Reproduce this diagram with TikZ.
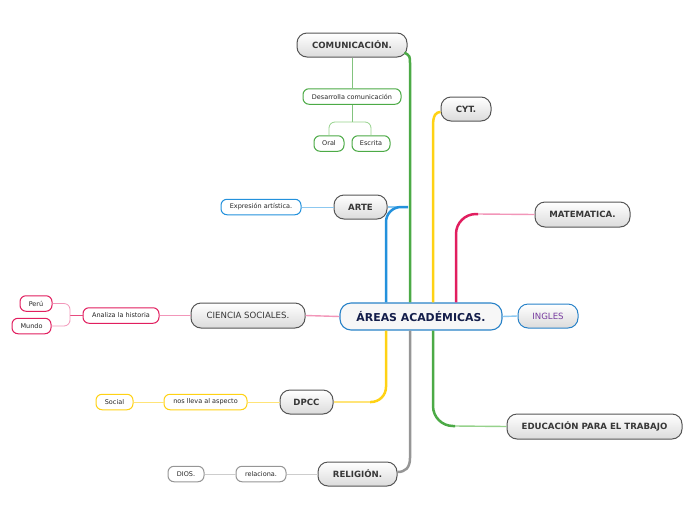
\documentclass[tikz,border=0pt]{standalone}
\usepackage{fontspec}
\setmainfont{DejaVu Sans}
\usetikzlibrary{calc}
\definecolor{cgreen}{RGB}{76,170,70}
\definecolor{lgreen}{RGB}{150,210,140}
\definecolor{cblue}{RGB}{35,145,220}
\definecolor{lblue}{RGB}{140,200,240}
\definecolor{cyellow}{RGB}{255,210,20}
\definecolor{lyellow}{RGB}{255,228,120}
\definecolor{cpink}{RGB}{225,30,95}
\definecolor{lpink}{RGB}{242,150,185}
\definecolor{cgray}{RGB}{150,150,150}
\definecolor{lgray}{RGB}{205,205,205}
\definecolor{mainborder}{RGB}{85,85,85}
\definecolor{maintext}{RGB}{55,55,55}
\definecolor{centerblue}{RGB}{40,130,200}
\definecolor{navy}{RGB}{20,30,75}
\definecolor{ingpurple}{RGB}{120,60,160}
\tikzset{
  mainbox/.style={draw=mainborder, line width=1pt, rounded corners=10pt, top color=white, bottom color=black!14,
    minimum height=24pt, inner sep=0pt, text=maintext, font=\fontsize{8.6}{10}\selectfont\bfseries},
  subbox/.style={draw=#1, line width=1pt, rounded corners=6pt, fill=white, minimum height=15.5pt,
    inner sep=0pt, text=black!85, font=\fontsize{6.5}{7}\selectfont},
  thick branch/.style={draw=#1, line width=2.5pt},
  thin branch/.style={draw=#1, line width=1.4pt},
}
\begin{document}
\begin{tikzpicture}[x=1pt,y=-1pt]
\useasboundingbox (0,0) rectangle (696,520);

% center
\node[draw=centerblue, line width=1.1pt, rounded corners=11pt, fill=black!3, minimum width=162pt, minimum height=27pt,
  inner sep=0pt, text=navy, font=\fontsize{10.9}{12}\selectfont\bfseries] (c) at (421,316.5) {ÁREAS ACADÉMICAS.};

% main nodes
\node[mainbox, minimum width=110pt] (com) at (352,45) {COMUNICACIÓN.};
\node[mainbox, minimum width=50pt] (cyt) at (466,109) {CYT.};
\node[mainbox, minimum width=53pt] (arte) at (360.5,207) {ARTE};
\node[mainbox, minimum width=95pt, minimum height=25pt] (mat) at (582.5,214.5) {MATEMATICA.};
\node[mainbox, minimum width=114pt, minimum height=25pt, font=\fontsize{8.6}{10}\selectfont] (cs) at (248,315.5) {CIENCIA SOCIALES.};
\node[mainbox, draw=centerblue, minimum width=60pt, text=ingpurple, font=\fontsize{8.6}{10}\selectfont] (ing) at (548,316) {INGLES};
\node[mainbox, minimum width=53pt] (dpcc) at (306.5,402) {DPCC};
\node[mainbox, minimum width=175pt, minimum height=25pt] (edu) at (594.5,426.5) {EDUCACIÓN PARA EL TRABAJO};
\node[mainbox, minimum width=79pt] (rel) at (357.5,474) {RELIGIÓN.};

% sub nodes
\node[subbox=cgreen, minimum width=98pt] (des) at (352,96.5) {Desarrolla comunicación};
\node[subbox=cgreen, minimum width=30pt] (oral) at (329,143.5) {Oral};
\node[subbox=cgreen, minimum width=38pt] (esc) at (371,143.5) {Escrita};
\node[subbox=cblue, minimum width=80pt] (exp) at (261,207) {Expresión artística.};
\node[subbox=cpink, minimum width=76pt] (ana) at (121,315.5) {Analiza la historia};
\node[subbox=cpink, minimum width=32pt] (peru) at (36,303.5) {Perú};
\node[subbox=cpink, minimum width=39pt] (mundo) at (31.5,326) {Mundo};
\node[subbox=cyellow, minimum width=83pt] (nos) at (205.5,402) {nos lleva al aspecto};
\node[subbox=cyellow, minimum width=37pt] (soc) at (114.5,402) {Social};
\node[subbox=cgray, minimum width=50pt] (rela) at (261,474) {relaciona.};
\node[subbox=cgray, minimum width=36pt] (dios) at (186,474) {DIOS.};

% branch points
\coordinate (bArte) at (408,207);
\coordinate (bMat) at (478,214);
\coordinate (bDpcc) at (370,402);
\coordinate (bEdu) at (455,426);

% branches above
\draw[thin branch=lblue] (arte.east) -- (bArte);
\draw[thick branch=cblue, rounded corners=15pt] ([xshift=-35pt]c.north) |- (bArte);
\draw[thick branch=cgreen] ([xshift=-11pt]c.north) -- (410,64) .. controls (410,56) .. ([xshift=-3pt,yshift=5pt]com.south east);
\draw[thick branch=cyellow] ([xshift=12pt]c.north) -- (433,126) .. controls (433,115) and (436,112) .. ([yshift=-3pt]cyt.west);
\draw[thin branch=lpink] (mat.west) -- (bMat);
\draw[thick branch=cpink, rounded corners=20pt] ([xshift=35pt]c.north) |- (bMat);

% branches below
\draw[thin branch=lyellow] (dpcc.east) -- (bDpcc);
\draw[thick branch=cyellow, rounded corners=15pt] ([xshift=-35pt]c.south) |- (bDpcc);
\draw[thick branch=cgray] ([xshift=-11pt]c.south) -- (410,458) .. controls (410,468) and (405,472) .. ([yshift=2pt]rel.east);
\draw[thin branch=lgreen] (edu.west) -- (bEdu);
\draw[thick branch=cgreen, rounded corners=20pt] ([xshift=12pt]c.south) |- (bEdu);

% side branches
\draw[thin branch=lpink] (cs.east) -- (c.west);
\draw[thin branch=lblue] (c.east) -- (ing.west);

% sub connectors
\coordinate (j1) at (352,122);
\draw[line width=1pt, draw=cgreen!70] (com.south) -- (des.north);
\draw[line width=1pt, draw=cgreen!70] (des.south) -- (j1);
\draw[line width=0.8pt, draw=lgreen, rounded corners=6pt] (oral.north) |- (j1) -| (esc.north);
\draw[line width=1pt, draw=lblue] (arte.west) -- (exp.east);
\draw[line width=1pt, draw=lpink] (cs.west) -- (ana.east);
\coordinate (j2) at (70,315.5);
\draw[line width=1pt, draw=cpink!80] (ana.west) -- (j2);
\draw[line width=0.8pt, draw=lpink, rounded corners=6pt] (peru.east) -| (j2) |- (mundo.east);
\draw[line width=1pt, draw=lyellow] (dpcc.west) -- (nos.east);
\draw[line width=1pt, draw=lyellow] (nos.west) -- (soc.east);
\draw[line width=1pt, draw=lgray] (rel.west) -- (rela.east);
\draw[line width=1pt, draw=lgray] (rela.west) -- (dios.east);
\end{tikzpicture}
\end{document}
